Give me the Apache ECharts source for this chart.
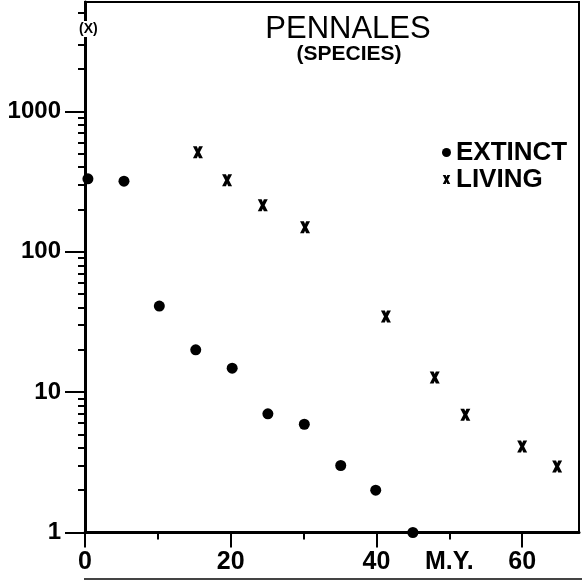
<!DOCTYPE html>
<html>
<head>
<meta charset="utf-8">
<script src="https://cdn.jsdelivr.net/npm/echarts@6/dist/echarts.min.js"></script>
<style>
html,body{margin:0;padding:0;background:#fff;}
#chart{width:582px;height:580px;}
</style>
</head>
<body>
<div id="chart"></div>
<script>
// ---- data ----
const extinctAge   = [0.4, 5.35, 10.2, 15.2, 20.2, 25.1, 30.1, 35.1, 39.9, 45.0];
const extinctCount = [330, 318, 41, 20, 14.8, 7, 5.9, 3, 2, 1];
const livingAge    = [15.5, 19.5, 24.4, 30.2, 41.3, 48.0, 52.2, 60.0, 64.8];
const livingCount  = [510, 323, 214, 149, 34.6, 12.7, 6.9, 4.1, 2.95];

const xMajorTicks = [0, 20, 40, 60];
const xMinorTicks = [10, 30, 50];
const xLabelValues = [0, 20, 40, 50, 60];
const xLabelTexts  = ['0', '20', '40', 'M.Y.', '60'];

const yMajorTicks = [1, 10, 100, 1000];
const yMinorTicks = [2,3,4,5,6,7,8,9,20,30,40,50,60,70,80,90,200,300,400,500,600,700,800,900,2000,3000,4000,5000];
const yLabelTexts = ['1', '10', '100', '1000'];

const titleText = 'PENNALES';
const subtitleText = '(SPECIES)';
const seriesNames = ['EXTINCT', 'LIVING'];
const yUnitText = '(X)';

const xPath = 'path://M0,0 L3.9,0 L5,2.6 L6.1,0 L10,0 L6.9,6 L10,12 L6.1,12 L5,9.4 L3.9,12 L0,12 L3.1,6 Z';
const FONT = '"Liberation Sans", Arial, sans-serif';

const pair = (a, b) => a.map((v, i) => [v, b[i]]);

const chart = echarts.init(document.getElementById('chart'), null, {renderer: 'canvas'});

const xCommon = {
  type: 'value', min: 0, max: 67.8, position: 'bottom',
  splitLine: {show: false}
};
const yCommon = {
  type: 'log', logBase: 10, min: 1, max: 6000, position: 'left',
  splitLine: {show: false}
};

chart.setOption({
  backgroundColor: '#fff',
  animation: false,
  grid: {
    left: 85, right: 3, top: 2, bottom: 47.5,
    show: true, borderColor: '#000', borderWidth: 2, backgroundColor: 'transparent'
  },
  title: [
    {text: titleText, left: 343, top: 9, textAlign: 'center',
     textStyle: {fontFamily: FONT, fontSize: 31, fontWeight: 'normal', color: '#000'}},
    {text: subtitleText, left: 344, top: 39, textAlign: 'center',
     textStyle: {fontFamily: FONT, fontSize: 21, fontWeight: 'bold', color: '#000'}}
  ],
  legend: {
    orient: 'vertical', left: 437, top: 134, itemGap: 0,
    itemWidth: 9, itemHeight: 9,
    textStyle: {fontFamily: FONT, fontSize: 26, fontWeight: 'bold', color: '#000', lineHeight: 27},
    data: [
      {name: seriesNames[0], icon: 'circle', itemStyle: {color: '#000', opacity: 1}},
      {name: seriesNames[1], icon: xPath, itemStyle: {color: '#000', opacity: 1}}
    ]
  },
  graphic: [
    {type: 'text', left: 78, top: 21, z: 100,
     style: {text: yUnitText, font: 'bold 14px ' + FONT, fill: '#000',
             backgroundColor: '#fff', padding: [1, 1, 1, 1]}},
    {type: 'line', shape: {x1: 84, y1: 579, x2: 582, y2: 579},
     style: {stroke: '#444', lineWidth: 2}}
  ],
  xAxis: [
    Object.assign({}, xCommon, {
      axisLine: {show: true, lineStyle: {color: '#000', width: 3}},
      axisTick: {show: true, length: 15, lineStyle: {color: '#000', width: 2}, customValues: xMajorTicks},
      axisLabel: {
        show: true, margin: 17, customValues: xLabelValues,
        fontFamily: FONT, fontSize: 25, fontWeight: 'bold', color: '#000',
        formatter: v => { const i = xLabelValues.indexOf(v); return i >= 0 ? xLabelTexts[i] : ''; }
      }
    }),
    Object.assign({}, xCommon, {
      axisLine: {show: false},
      axisTick: {show: true, length: 7, lineStyle: {color: '#000', width: 2}, customValues: xMinorTicks},
      axisLabel: {show: false}
    })
  ],
  yAxis: [
    Object.assign({}, yCommon, {
      axisLine: {show: true, lineStyle: {color: '#000', width: 3}},
      axisTick: {show: true, length: 20, lineStyle: {color: '#000', width: 2}, customValues: yMajorTicks},
      axisLabel: {
        show: true, margin: 24, customValues: yMajorTicks,
        fontFamily: FONT, fontSize: 24, fontWeight: 'bold', color: '#000',
        formatter: v => { const i = yMajorTicks.indexOf(Math.round(v)); return i >= 0 ? yLabelTexts[i] : ''; }
      }
    }),
    Object.assign({}, yCommon, {
      axisLine: {show: false},
      axisTick: {show: true, length: 7, lineStyle: {color: '#000', width: 2}, customValues: yMinorTicks},
      axisLabel: {show: false}
    })
  ],
  series: [
    {
      name: seriesNames[0], type: 'scatter', xAxisIndex: 0, yAxisIndex: 0,
      symbol: 'circle', symbolSize: 11,
      itemStyle: {color: '#000', opacity: 1},
      data: pair(extinctAge, extinctCount)
    },
    {
      name: seriesNames[1], type: 'scatter', xAxisIndex: 0, yAxisIndex: 0,
      symbol: xPath, symbolSize: [10, 12],
      itemStyle: {color: '#000', opacity: 1},
      data: pair(livingAge, livingCount)
    }
  ]
});
</script>
</body>
</html>
